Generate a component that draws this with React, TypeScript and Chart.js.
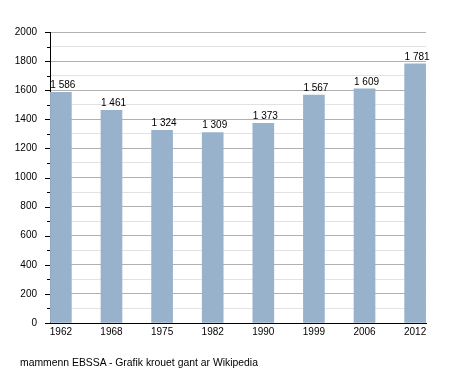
import React, { useEffect, useRef } from "react";
import { Chart, registerables } from "chart.js";

Chart.register(...registerables);

const years = ["1962", "1968", "1975", "1982", "1990", "1999", "2006", "2012"];
const population = [1586, 1461, 1324, 1309, 1373, 1567, 1609, 1781];
const yMin = 0;
const yMax = 2000;
const yStep = 100;
const yLabelStep = 200;
const footerText = "mammenn EBSSA - Grafik krouet gant ar Wikipedia";

const FONT = "'Liberation Sans', Arial, sans-serif";

function fmt(v: number): string {
  return String(v).replace(/\B(?=(\d{3})+(?!\d))/g, " ");
}

const valueLabels = {
  id: "valueLabels",
  afterDatasetsDraw(chart: any) {
    const ctx = chart.ctx;
    const meta = chart.getDatasetMeta(0);
    ctx.save();
    ctx.font = `10px ${FONT}`;
    ctx.fillStyle = "#000";
    ctx.textAlign = "center";
    ctx.textBaseline = "bottom";
    meta.data.forEach((el: any, i: number) => {
      ctx.fillText(fmt(population[i]), el.x + 2, el.y - 2);
    });
    ctx.restore();
  },
};

const yTickMarks = {
  id: "yTickMarks",
  afterDraw(chart: any) {
    const ctx = chart.ctx;
    const ys = chart.scales.y;
    const left = chart.chartArea.left;
    ctx.save();
    ctx.strokeStyle = "#000";
    ctx.lineWidth = 1;
    ys.ticks.forEach((t: any) => {
      const y = Math.round(ys.getPixelForValue(t.value)) + 0.5;
      const len = t.value % yLabelStep === 0 ? 5 : 3;
      ctx.beginPath();
      ctx.moveTo(left - len, y);
      ctx.lineTo(left, y);
      ctx.stroke();
    });
    ctx.restore();
  },
};

export default function App() {
  const ref = useRef<HTMLCanvasElement | null>(null);

  useEffect(() => {
    if (!ref.current) return;
    const chart = new Chart(ref.current, {
      type: "bar",
      data: {
        datasets: [
          {
            data: population.map((v, i) => ({ x: i, y: v })),
            backgroundColor: "#98b2cc",
            borderWidth: 0,
            barThickness: 21,
          },
        ],
      },
      options: {
        responsive: false,
        animation: false,
        events: [],
        layout: { padding: { top: 32, right: 29, bottom: 25, left: 0 } },
        plugins: {
          legend: { display: false },
          tooltip: { enabled: false },
        },
        scales: {
          x: {
            type: "linear",
            offset: false,
            min: -0.215,
            max: years.length - 1 + 0.215,
            afterBuildTicks(scale: any) {
              scale.ticks = years.map((_, i) => ({ value: i }));
            },
            afterFit(scale: any) {
              scale.height = 25;
            },
            grid: { display: false, drawTicks: false, offset: false },
            border: { display: true, color: "#000", width: 1 },
            ticks: {
              autoSkip: false,
              maxRotation: 0,
              padding: 3,
              color: "#000",
              font: { family: FONT, size: 10 },
              callback: (v: any) => years[Math.round(Number(v))] ?? "",
            },
          },
          y: {
            min: yMin,
            max: yMax,
            afterFit(scale: any) {
              scale.width = 50;
            },
            grid: {
              drawTicks: false,
              color: (c: any) =>
                c.tick && c.tick.value % yLabelStep === 0 ? "#b0b0b0" : "#e2e2e2",
            },
            border: { display: true, color: "#000", width: 1 },
            ticks: {
              stepSize: yStep,
              autoSkip: false,
              padding: 13,
              color: "#000",
              font: { family: FONT, size: 10 },
              callback: (v: any) => (Number(v) % yLabelStep === 0 ? String(v) : ""),
            },
          },
        },
      },
      plugins: [valueLabels, yTickMarks],
    });
    return () => chart.destroy();
  }, []);

  return (
    <div style={{ position: "fixed", left: 0, top: 0, width: 455, height: 373, background: "#fff" }}>
      <canvas ref={ref} width={455} height={373} style={{ display: "block" }} />
      <div
        style={{
          position: "absolute",
          left: 20,
          top: 356,
          fontFamily: FONT,
          fontSize: 10.4,
          lineHeight: "13px",
          color: "#000",
          whiteSpace: "nowrap",
        }}
      >
        {footerText}
      </div>
    </div>
  );
}
